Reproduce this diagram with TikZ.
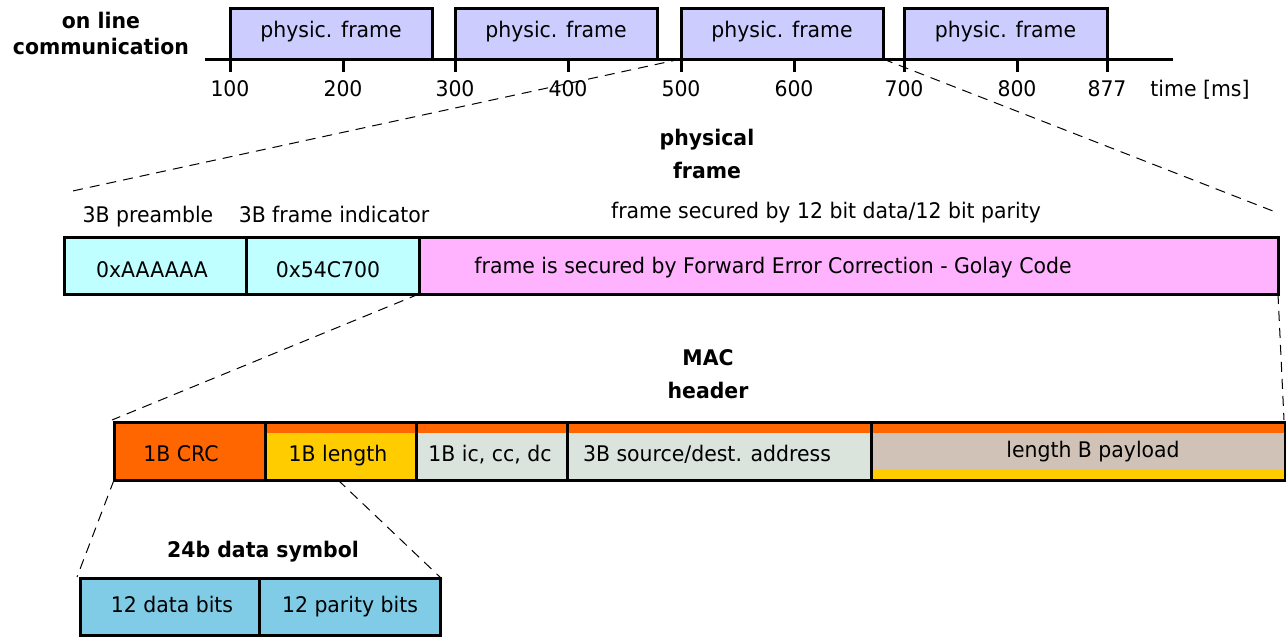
\documentclass[tikz,border=0pt]{standalone}
\usepackage{fontspec}
\setmainfont{DejaVu Sans}[FakeStretch=0.95]
\usetikzlibrary{fit}
\definecolor{framelav}{HTML}{CCCCFF}
\definecolor{precyan}{HTML}{BFFFFF}
\definecolor{fecpink}{HTML}{FFB3FF}
\definecolor{crcorange}{HTML}{FF6600}
\definecolor{lenyellow}{HTML}{FFCC00}
\definecolor{hdrgray}{HTML}{DAE3DC}
\definecolor{paytan}{HTML}{D0C2B6}
\definecolor{symblue}{HTML}{80CCE6}
\begin{document}
\begin{tikzpicture}[x=1pt,y=-1pt,
  every node/.style={font=\fontsize{21.5}{26}\selectfont, inner sep=0pt, outer sep=0pt},
  txt/.style={text height=15.7pt, text depth=0pt},
  heading/.style={font=\fontsize{21.5}{33}\selectfont\bfseries, align=center, anchor=north},
  cell/.style={draw, line width=3pt},
  pframe/.style={cell, fill=framelav},
  topstrip/.style={path picture={\fill[crcorange] (path picture bounding box.north west) rectangle ([yshift=-11pt]path picture bounding box.north east);}},
  botstrip/.style={path picture={\fill[crcorange] (path picture bounding box.north west) rectangle ([yshift=-11pt]path picture bounding box.north east);
      \fill[lenyellow] (path picture bounding box.south west) rectangle ([yshift=11pt]path picture bounding box.south east);}},
  zoomline/.style={line width=1pt, dash pattern=on 10pt off 7pt},
  axisline/.style={line width=3pt},
]
\fill[white] (0,0) rectangle (1286,637);
\useasboundingbox (0,0) rectangle (1286,637);

% ---------- time line ----------
\node[heading, font=\fontsize{21.5}{26}\selectfont\bfseries] (olc) at (101,11.7) {on line\\communication};

\node[pframe, fit={(230,8) (432,59)}] (f1) {};
\node[pframe, fit={(455,8) (657,59)}] (f2) {};
\node[pframe, fit={(681,8) (883,59)}] (f3) {};
\node[pframe, fit={(904,8) (1107,59)}] (f4) {};
\foreach \f in {f1,f2,f3,f4}
  \node[txt] (\f-text) at ([yshift=3.5pt]\f.center) {physic. frame};

\draw[axisline] (205,59) -- (1173,59);
\foreach \x/\t in {230/100, 343/200, 455/300, 568/400, 681/500, 794/600, 904/700, 1017/800, 1107/877} {
  \coordinate (tick\t) at (\x,59);
  \draw[axisline] (tick\t) -- ++(0,13);
  \node[txt] (lab\t) at (\x,88.5) {\t};
}
\node[txt] (timeunit) at (1200,88.5) {time [ms]};

% ---------- physical frame ----------
\node[heading] (phys) at (707,128.7) {physical\\frame};
\node[txt] (preT) at (148,215) {3B preamble};
\node[txt] (indT) at (334,215) {3B frame indicator};
\node[txt] (fecT) at (826,211) {frame secured by 12 bit data/12 bit parity};

\node[cell, fill=precyan, fit={(64,237) (246,294)}] (pre) {};
\node[cell, fill=precyan, fit={(246,237) (419,294)}] (ind) {};
\node[cell, fill=fecpink, fit={(419,237) (1278,294)}] (fec) {};
\node[txt] at (152,269.5) {0xAAAAAA};
\node[txt] at (328,269.5) {0x54C700};
\node[txt] at (773,266) {frame is secured by Forward Error Correction - Golay Code};

\coordinate (physL) at (68,192);
\coordinate (physR) at (1278,213);
\draw[zoomline] (f3.south west) -- (physL);
\draw[zoomline] (f3.south east) -- (physR);

% ---------- MAC header ----------
\node[heading] (mac) at (708,350) {MAC\\header};

\node[cell, fill=crcorange, fit={(114,422) (265,480)}] (crc) {};
\node[cell, fill=lenyellow, topstrip, fit={(265,422) (416,480)}] (len) {};
\node[cell, fill=hdrgray, topstrip, fit={(416,422) (567,480)}] (ctl) {};
\node[cell, fill=hdrgray, topstrip, fit={(567,422) (871,480)}] (addr) {};
\node[cell, fill=paytan, botstrip, fit={(871,422) (1285,480)}] (pay) {};
\node[txt] at (181,453.5) {1B CRC};
\node[txt] at (338,454) {1B length};
\node[txt] at (490,454) {1B ic, cc, dc};
\node[txt] at (707,454) {3B source/dest. address};
\node[txt] at (1093,450) {length B payload};

\coordinate (macL) at (112,420);
\coordinate (macR) at (1284,420);
\draw[zoomline] (fec.south west) -- (macL);
\draw[zoomline] (fec.south east) -- (macR);

% ---------- data symbol ----------
\node[txt, font=\fontsize{21.5}{26}\selectfont\bfseries] (sym) at (263,549.5) {24b data symbol};
\node[cell, fill=symblue, fit={(80,578) (259,635)}] (dbits) {};
\node[cell, fill=symblue, fit={(259,578) (440,635)}] (pbits) {};
\node[txt] at (172,605) {12 data bits};
\node[txt] at (350,605) {12 parity bits};

\coordinate (symL) at (77,577);
\coordinate (symR) at (442,579);
\coordinate (lenCut) at (338,480);
\draw[zoomline] (crc.south west) -- (symL);
\draw[zoomline] (lenCut) -- (symR);
\end{tikzpicture}
\end{document}
